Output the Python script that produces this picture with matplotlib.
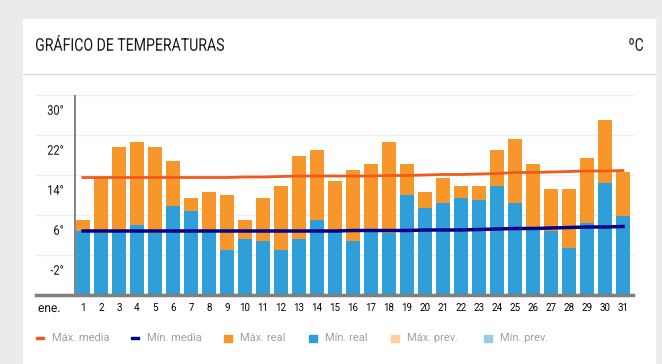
import matplotlib.pyplot as plt
from matplotlib.patches import Rectangle, PathPatch
from matplotlib.textpath import TextPath
from matplotlib.font_manager import FontProperties
from matplotlib.transforms import Affine2D

# datos de enero
days = list(range(1, 32))
max_real = [8.0, 16.5, 22.6, 23.6, 22.6, 19.8, 12.4, 13.6, 13.0, 8.0,
            12.4, 14.8, 20.8, 22.0, 15.8, 18.0, 19.2, 23.6, 19.2, 13.6,
            16.4, 14.8, 14.8, 22.0, 24.2, 19.2, 14.2, 14.2, 20.4, 28.0, 17.6]
min_real = [5.8, 5.5, 5.7, 7.0, 5.5, 10.8, 9.8, 5.6, 2.0, 4.2,
            3.8, 2.0, 4.2, 8.0, 5.7, 3.8, 5.9, 5.4, 13.0, 10.4,
            11.4, 12.4, 12.0, 14.8, 11.4, 6.0, 5.8, 2.4, 7.4, 15.4, 8.8]
max_media = [16.5, 16.5, 16.5, 16.5, 16.5, 16.5, 16.5, 16.5, 16.5, 16.6,
             16.6, 16.7, 16.8, 16.8, 16.8, 16.8, 16.8, 16.9, 16.9, 17.0,
             17.1, 17.1, 17.2, 17.3, 17.5, 17.5, 17.6, 17.7, 17.8, 17.8, 17.9]
min_media = [5.8, 5.8, 5.8, 5.8, 5.8, 5.8, 5.8, 5.8, 5.8, 5.8,
             5.8, 5.8, 5.8, 5.8, 5.8, 5.9, 5.9, 5.9, 5.9, 6.0,
             6.0, 6.0, 6.1, 6.2, 6.3, 6.3, 6.4, 6.5, 6.6, 6.6, 6.7]
y_labels = [30, 22, 14, 6, -2]
grid_vals = [33, 25, 17, 9, 1]
base = -7

c_max = '#f7962b'
c_min = '#2e9fd8'
c_max_media = '#f05a1a'
c_min_media = '#00008b'
c_max_prev = '#ffcf9e'
c_min_prev = '#96cdea'

W, H = 662, 364
fig = plt.figure(figsize=(W / 100, H / 100), dpi=100)

# capa de fondo en pixeles
bg = fig.add_axes([0, 0, 1, 1])
bg.set_xlim(0, W)
bg.set_ylim(H, 0)
bg.axis('off')
bg.add_patch(Rectangle((0, 0), W, H, color='#ebebeb'))
bg.add_patch(Rectangle((23, 19), 632, H, color='white'))
bg.plot([23, 655], [74, 74], color='#dcdcdc', lw=1)

roboto = FontProperties(family='Roboto')


def narrow_text(s, x, y, cap, width=None, sx=0.8, ha='left', color='#111111'):
    # texto estrecho: se escala el trazo en horizontal
    tp = TextPath((0, 0), s, size=100, prop=roboto)
    ext = tp.get_extents()
    ky = cap / 71.1
    kx = width / ext.width if width else ky * sx
    if ha == 'right':
        xoff = x - ext.x1 * kx
    else:
        xoff = x - ext.x0 * kx
    tr = Affine2D().scale(kx, -ky).translate(xoff, y + cap / 2) + bg.transData
    bg.add_patch(PathPatch(tp, transform=tr, facecolor=color, lw=0))


narrow_text('GRÁFICO DE TEMPERATURAS', 36, 44.5, 12.5, width=188, color='#1a1a1a')
narrow_text('ºC', 643, 44.5, 12.5, sx=0.78, ha='right', color='#1a1a1a')

# leyenda
legend = [('line', c_max_media, 36, 'Máx. media'),
          ('line', c_min_media, 131, 'Mín. media'),
          ('sq', c_max, 224, 'Máx. real'),
          ('sq', c_min, 309, 'Mín. real'),
          ('sq', c_max_prev, 391, 'Máx. prev.'),
          ('sq', c_min_prev, 484, 'Mín. prev.')]
ly = 338
for kind, col, x0, lab in legend:
    if kind == 'line':
        bg.add_patch(Rectangle((x0, ly - 1.3), 8, 2.6, color=col))
    else:
        bg.add_patch(Rectangle((x0, ly - 3.5), 7.5, 7.5, color=col))
    bg.text(x0 + 16, ly, lab, fontsize=8, va='center', color='#a0a0a0',
            family=['Roboto', 'DejaVu Sans'])

# grafico
x0, x1, yb, yt = 74, 632, 295, 95
ax = fig.add_axes([x0 / W, (H - yb) / H, (x1 - x0) / W, (yb - yt) / H])
ax.set_xlim(0.5, 31.5)
ax.set_ylim(base, 33)
ax.patch.set_alpha(0)

gx0 = (36 - x0) / (x1 - x0)
for g in grid_vals:
    ax.axhline(g, gx0, 1.002, color='#eeeeee', lw=1, clip_on=False, zorder=0)

ax.bar(days, [m - base for m in min_real], bottom=base, width=0.78,
       color=c_min, zorder=2)
ax.bar(days, [a - b for a, b in zip(max_real, min_real)], bottom=min_real,
       width=0.78, color=c_max, zorder=2)
ax.plot(days, max_media, color=c_max_media, lw=2, zorder=3)
ax.plot(days, min_media, color=c_min_media, lw=2.5, zorder=3)

ax.axhline(base, gx0, 1.002, color='#7f7f7f', lw=2.5, clip_on=False, zorder=4)
ax.axvline(0.5, 0, 1, color='#7f7f7f', lw=2, zorder=4)

for s in ax.spines.values():
    s.set_visible(False)
ax.set_yticks([])
for v in y_labels:
    py = yb - (v - base) * (yb - yt) / (33 - base)
    narrow_text(f'{v}°', 63, py, 9.5, sx=0.82, ha='right')
ax.set_xticks(days)
ax.set_xticklabels([str(d) for d in days], fontsize=7,
                   family=['Roboto', 'DejaVu Sans'])
ax.tick_params(length=0)
ax.tick_params(axis='x', pad=6)
narrow_text('ene.', 38.5, 307.5, 9, width=21)

fig.savefig('out.png', dpi=100)
